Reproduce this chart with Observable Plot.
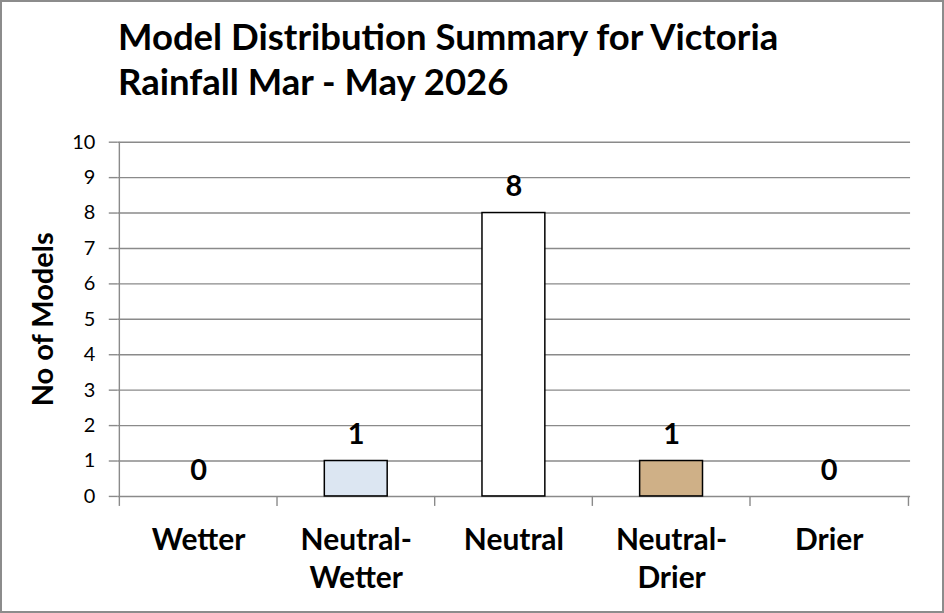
<!DOCTYPE html>
<html><head><meta charset="utf-8">
<script src="https://cdn.jsdelivr.net/npm/d3@7"></script>
<script src="https://cdn.jsdelivr.net/npm/@observablehq/plot@0.6"></script>
<style>
body{margin:0;background:#fff}
#wrap{position:relative;width:944px;height:613px;box-sizing:border-box;border:2px solid #8c8c8c;overflow:hidden;font-family:Lato,"Open Sans",sans-serif;background:#fff}
#title{position:absolute;left:116px;top:12px;font-weight:bold;font-size:36.5px;line-height:45px;color:#000;white-space:nowrap}
#chart{position:absolute;left:-2px;top:-2px}
</style></head>
<body>
<div id="wrap">
<div id="title">Model Distribution Summary for Victoria<br>Rainfall Mar - May 2026</div>
<div id="chart"></div>
</div>
<script>
const categories = ["Wetter","Neutral-Wetter","Neutral","Neutral-Drier","Drier"];
const counts = [0, 1, 8, 1, 0];
const barColors = ["#FFFFFF","#DCE6F2","#FFFFFF","#CFB087","#FFFFFF"];
const tickLabels = ["Wetter","Neutral-\nWetter","Neutral","Neutral-\nDrier","Drier"];
const yTicks = [0,1,2,3,4,5,6,7,8,9,10];
const yLabel = "No of Models";

const data = categories.map((c,i)=>({cat:c, n:counts[i], color:barColors[i], label:tickLabels[i]}));
const W = 944, H = 613, mL = 118, mR = 32, mT = 142, mB = 116;
const step = (W - mL - mR) / categories.length;
const grid = "#8a8a8a";

const plot = Plot.plot({
  width: W, height: H,
  marginLeft: mL, marginRight: mR, marginTop: mT, marginBottom: mB,
  style: {background: "transparent", fontFamily: "Lato, 'Open Sans', sans-serif", color: "#000"},
  x: {domain: categories, paddingInner: 0.6, paddingOuter: 0.3, label: null},
  y: {domain: [0, 10], label: null},
  marks: [
    Plot.ruleY(yTicks, {stroke: grid, strokeWidth: 1.4}),
    Plot.axisY({ticks: yTicks, tickSize: 9, tickPadding: 14, stroke: grid, strokeWidth: 1.4, fontSize: 20, fill: "#000", label: null}),
    Plot.axisY({ticks: [], label: yLabel, labelAnchor: "center", labelArrow: "none", labelOffset: 86, fontSize: 29, fontWeight: "bold", fill: "#000"}),
    // category boundary ticks and axis line
    Plot.ruleX(data, {x: "cat", y1: 0, y2: 0, insetBottom: -10, dx: -step/2, stroke: grid, strokeWidth: 1.4}),
    Plot.ruleX([data[data.length-1]], {x: "cat", y1: 0, y2: 0, insetBottom: -10, dx: step/2, stroke: grid, strokeWidth: 1.4}),
    Plot.ruleX([data[0]], {x: "cat", y1: 0, y2: 10, dx: -step/2, stroke: grid, strokeWidth: 1.4}),
    Plot.barY(data.filter(d => d.n > 0), {x: "cat", y: "n", fill: "color", stroke: "#000", strokeWidth: 1.5}),
    Plot.text(data, {x: "cat", y: "n", text: d => String(d.n), dy: -26, fontSize: 29, fontWeight: "bold", fill: "#000"}),
    Plot.axisX({tickSize: 0, tickPadding: 27, tickFormat: (d) => tickLabels[categories.indexOf(d)], fontSize: 30, fontWeight: "bold", fill: "#000", lineHeight: 1.27, label: null})
  ]
});
document.getElementById("chart").append(plot);
</script>
</body></html>
